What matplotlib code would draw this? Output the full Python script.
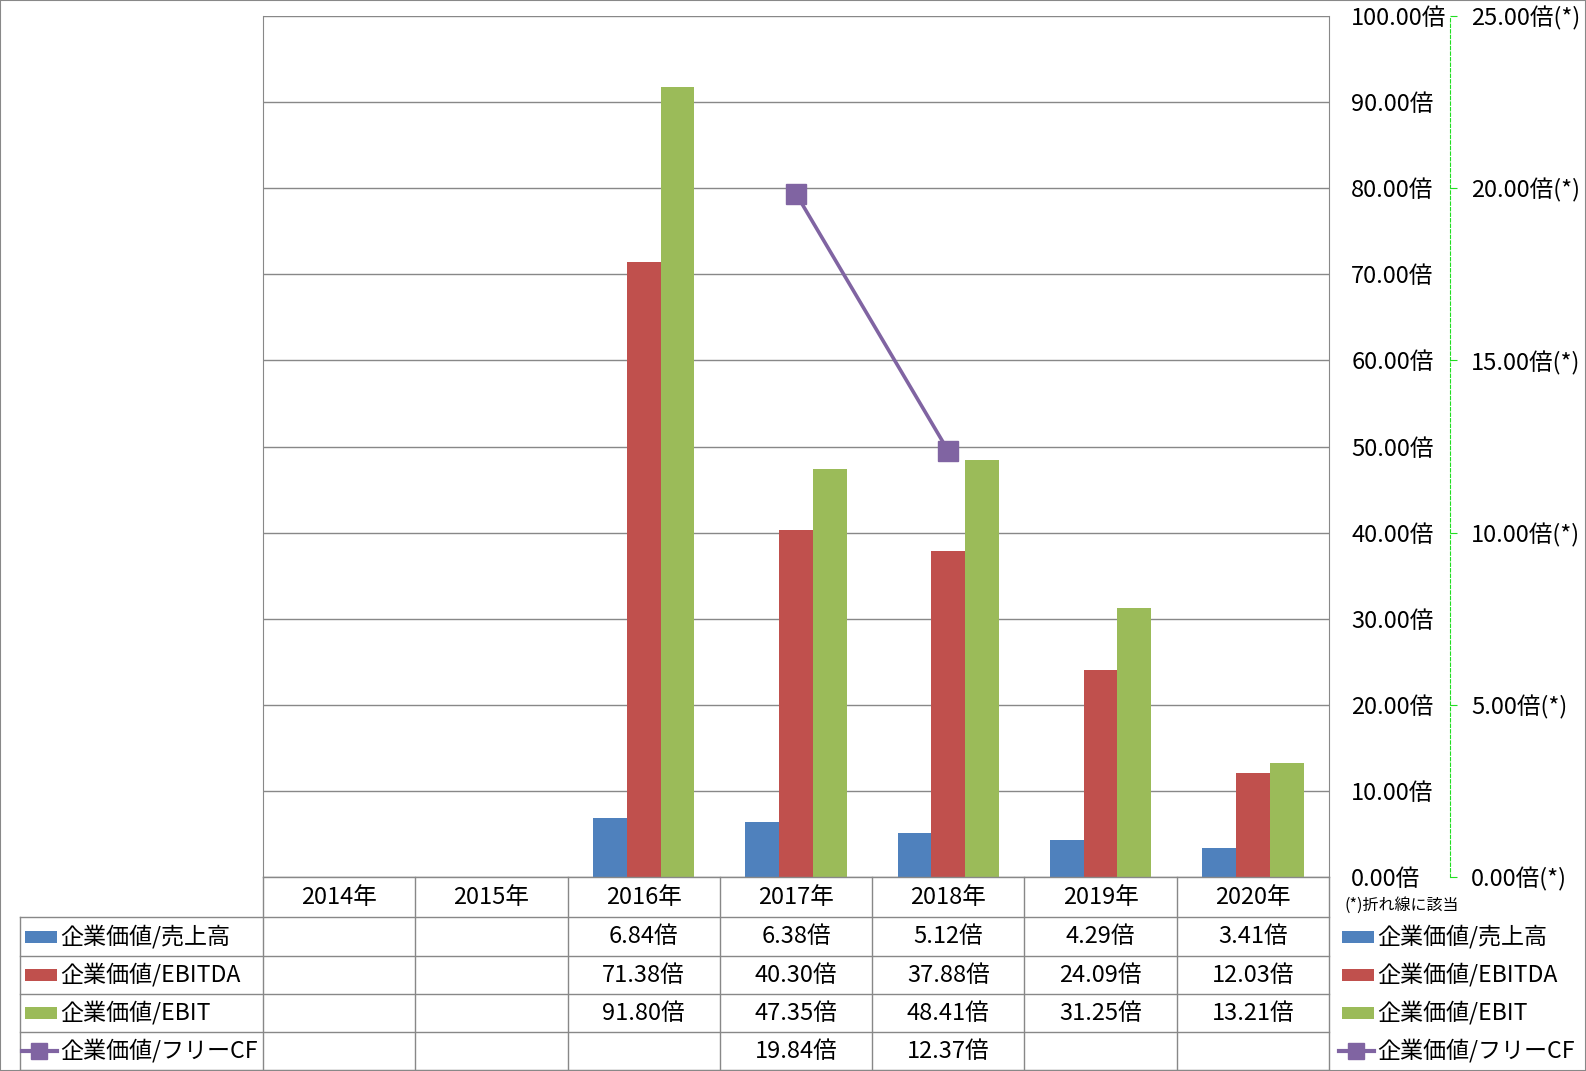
import numpy as np
import matplotlib
matplotlib.use("Agg")
import matplotlib.pyplot as plt
from matplotlib.lines import Line2D
from matplotlib.patches import Rectangle
import matplotlib.transforms as mtransforms

plt.rcParams['font.family'] = ['Noto Sans CJK JP', 'DejaVu Sans']

# data
years = ['2014年', '2015年', '2016年', '2017年', '2018年', '2019年', '2020年']
ev_sales = [np.nan, np.nan, 6.84, 6.38, 5.12, 4.29, 3.41]
ev_ebitda = [np.nan, np.nan, 71.38, 40.30, 37.88, 24.09, 12.03]
ev_ebit = [np.nan, np.nan, 91.80, 47.35, 48.41, 31.25, 13.21]
ev_fcf = [np.nan, np.nan, np.nan, 19.84, 12.37, np.nan, np.nan]
series_names = ['企業価値/売上高', '企業価値/EBITDA', '企業価値/EBIT', '企業価値/フリーCF']
colors = ['#4F81BD', '#C0504D', '#9BBB59', '#8064A2']

W, H = 1586, 1071
GRID = '#888888'
LIME = '#22DD22'
FS = 17        # numbers
FS_LEG = 16.6  # legend names

def fx(px):
    return px / W

def fy(py):
    return 1 - py / H

fig = plt.figure(figsize=(W / 100, H / 100), dpi=100)

# plot area (pixels)
L, R, T, B = 263, 1329, 16, 877
ax = fig.add_axes([fx(L), fy(B), fx(R) - fx(L), fy(T) - fy(B)])

x = np.arange(len(years))
w = 0.222
ax.bar(x - w, ev_sales, w, color=colors[0], zorder=2)
ax.bar(x, ev_ebitda, w, color=colors[1], zorder=2)
ax.bar(x + w, ev_ebit, w, color=colors[2], zorder=2)

ax.set_xlim(-0.5, len(years) - 0.5)
ax.set_ylim(0, 100)
ax.set_xticks([])
ax.set_yticks(np.arange(0, 101, 10))
ax.set_yticklabels([f"{v:.2f}倍" for v in np.arange(0, 101, 10)])
ax.yaxis.grid(True, color=GRID, lw=1)
ax.set_axisbelow(True)
for s in ['top', 'bottom']:
    ax.spines[s].set_visible(False)
for s in ['left', 'right']:
    ax.spines[s].set_color(GRID)

# secondary axis for the line
ax2 = ax.twinx()
ax2.plot(x, ev_fcf, color=colors[3], lw=2.6, marker='s', markersize=15, zorder=5)
ax2.set_ylim(0, 25)
ax2.set_yticks(np.arange(0, 26, 5))
ax2.set_yticklabels([f"{v:.2f}倍(*)" for v in np.arange(0, 26, 5)])
for s in ['left', 'top', 'bottom']:
    ax2.spines[s].set_visible(False)
ax2.spines['right'].set_position(('outward', (1450 - R) * 0.72))
ax2.spines['right'].set_color(LIME)
ax2.spines['right'].set_linestyle((0, (3, 2)))
ax2.tick_params(axis='y', length=5, color=LIME, pad=10, labelsize=FS)

# primary labels sit on the right as well (twinx moves them left)
ax.yaxis.tick_right()
ax.tick_params(axis='y', length=0, pad=16, labelsize=FS)

# data table below the plot
blend = mtransforms.blended_transform_factory(ax.transData, fig.transFigure)
row_lines = [877, 917, 956, 994, 1032, 1070]
for i, y in enumerate(row_lines):
    x0 = L if i == 0 else 20
    fig.add_artist(Line2D([fx(x0), fx(R)], [fy(y), fy(y)], transform=fig.transFigure,
                          color=GRID, lw=1))
for k in range(len(years) + 1):
    fig.add_artist(Line2D([k - 0.5, k - 0.5], [fy(877), fy(1070)], transform=blend,
                          color=GRID, lw=1))
fig.add_artist(Line2D([fx(20), fx(20)], [fy(917), fy(1070)], transform=fig.transFigure,
                      color=GRID, lw=1))

head_y = (877 + 917) / 2
for i, yr in enumerate(years):
    fig.text(i, fy(head_y), yr, transform=blend, ha='center', va='center', fontsize=FS)

table_rows = [ev_sales, ev_ebitda, ev_ebit, ev_fcf]
for r, vals in enumerate(table_rows):
    yc = (row_lines[r + 1] + row_lines[r + 2]) / 2
    for i, v in enumerate(vals):
        if not np.isnan(v):
            fig.text(i, fy(yc), f"{v:.2f}倍", transform=blend, ha='center', va='center',
                     fontsize=FS)

def legend_key(px0, yc, idx):
    if idx < 3:
        fig.add_artist(Rectangle((fx(px0 + 3), fy(yc + 6)), fx(32), 12 / H,
                                 transform=fig.transFigure, color=colors[idx], lw=0))
    else:
        fig.add_artist(Line2D([fx(px0), fx(px0 + 35)], [fy(yc), fy(yc)],
                              transform=fig.transFigure, color=colors[idx], lw=3))
        fig.add_artist(Line2D([fx(px0 + 17)], [fy(yc)], transform=fig.transFigure,
                              color=colors[idx], marker='s', markersize=12))

for r, name in enumerate(series_names):
    yc = (row_lines[r + 1] + row_lines[r + 2]) / 2
    legend_key(22, yc, r)
    fig.text(fx(60), fy(yc), name, ha='left', va='center', fontsize=FS_LEG)
    legend_key(1339, yc, r)
    fig.text(fx(1377), fy(yc), name, ha='left', va='center', fontsize=FS_LEG)

fig.text(fx(1345), fy(905), '(*)折れ線に該当', ha='left', va='center', fontsize=11.5)

fig.add_artist(Rectangle((0, 0), 1, 1, transform=fig.transFigure, fill=False,
                         edgecolor=GRID, lw=1.5))

fig.savefig('out.png', dpi=100)
